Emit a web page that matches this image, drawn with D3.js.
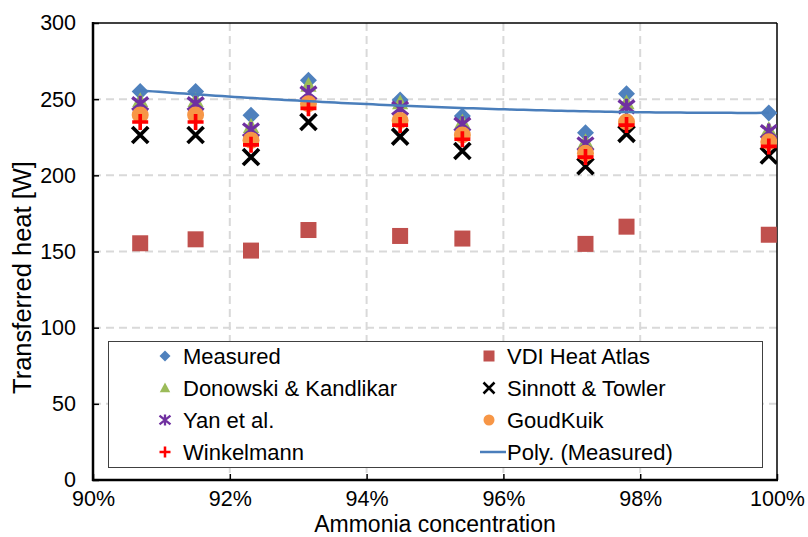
<!DOCTYPE html>
<html>
<head>
<meta charset="utf-8">
<script src="https://cdn.jsdelivr.net/npm/d3@7/dist/d3.min.js"></script>
<style>
  html, body { margin: 0; padding: 0; background: #fff; }
  svg { display: block; font-family: "Liberation Sans", Arial, sans-serif; }
</style>
</head>
<body>
<svg id="chart" width="808" height="537"></svg>
<script>
// Ammonia concentration of each test run [%]
const concentration = [90.69, 91.50, 92.31, 93.15, 94.49, 95.40, 97.20, 97.80, 99.88];

// Transferred heat per run [W]
const measured   = [255, 255, 239.5, 262.5, 249.5, 239, 228, 253.5, 241];
const vdiAtlas   = [155.4, 158, 150.6, 164.1, 160.2, 158.5, 155, 166.3, 161];
const donowski   = [249, 249, 232, 259, 247.5, 235, 222, 247.5, 230];
const sinnott    = [226.5, 226.5, 212, 235, 225.4, 216, 206, 227.2, 213];
const yan        = [247, 247, 229.8, 254, 244, 233.5, 220.6, 245, 228.7];
const goudKuik   = [239.6, 239.6, 223, 247, 236, 226.5, 214.5, 235, 222];
const winkelmann = [235, 235, 220, 244, 233, 223.7, 212, 233, 219];

const xTicks = [90, 92, 94, 96, 98, 100];
const yTicks = [0, 50, 100, 150, 200, 250, 300];

const svg = d3.select("#chart");
const plot = { left: 93, right: 777, top: 23, bottom: 480 };

const x = d3.scaleLinear().domain([90, 100]).range([plot.left, plot.right]);
const y = d3.scaleLinear().domain([0, 300]).range([plot.bottom, plot.top]);

// Marker shapes
const shapes = {
  diamond: (g, s, c) => g.append("path")
    .attr("d", `M0,${-s}L${s},0L0,${s}L${-s},0Z`).attr("fill", c),
  square: (g, s, c) => g.append("rect")
    .attr("x", -s).attr("y", -s).attr("width", 2 * s).attr("height", 2 * s).attr("fill", c),
  triangle: (g, s, c) => g.append("path")
    .attr("d", `M0,${-s}L${s * 0.95},${s * 0.75}L${-s * 0.95},${s * 0.75}Z`).attr("fill", c),
  cross: (g, s, c) => g.append("path")
    .attr("d", `M${-s},${-s}L${s},${s}M${s},${-s}L${-s},${s}`)
    .attr("stroke", c).attr("stroke-width", s * 0.46).attr("fill", "none"),
  star: (g, s, c) => g.append("path")
    .attr("d", `M${-s},${-s * 0.8}L${s},${s * 0.8}M${s},${-s * 0.8}L${-s},${s * 0.8}M0,${-s}L0,${s}`)
    .attr("stroke", c).attr("stroke-width", s * 0.42).attr("fill", "none"),
  circle: (g, s, c) => g.append("circle").attr("r", s).attr("fill", c),
  plus: (g, s, c) => g.append("path")
    .attr("d", `M${-s},0L${s},0M0,${-s}L0,${s}`)
    .attr("stroke", c).attr("stroke-width", s * 0.46).attr("fill", "none")
};

const series = [
  { name: "Measured",              values: measured,   shape: "diamond",  color: "#4f81bd", size: 8.5 },
  { name: "VDI Heat Atlas",        values: vdiAtlas,   shape: "square",   color: "#c0504d", size: 8 },
  { name: "Donowski & Kandlikar",  values: donowski,   shape: "triangle", color: "#9bbb59", size: 8.5 },
  { name: "Sinnott & Towler",      values: sinnott,    shape: "cross",    color: "#000000", size: 8 },
  { name: "Yan et al.",            values: yan,        shape: "star",     color: "#7030a0", size: 8 },
  { name: "GoudKuik",              values: goudKuik,   shape: "circle",   color: "#f79646", size: 8.5 },
  { name: "Winkelmann",            values: winkelmann, shape: "plus",     color: "#ff0000", size: 8 }
];

// Gridlines
const grid = svg.append("g").attr("stroke", "#d9d9d9").attr("stroke-width", 2)
  .attr("stroke-dasharray", "8,5");
grid.selectAll(".gy").data(yTicks.filter(t => t > 0 && t < 300)).join("line")
  .attr("x1", plot.left).attr("x2", plot.right)
  .attr("y1", d => y(d)).attr("y2", d => y(d));
grid.selectAll(".gx").data(xTicks.filter(t => t > 90 && t < 100)).join("line")
  .attr("y1", plot.top).attr("y2", plot.bottom)
  .attr("x1", d => x(d)).attr("x2", d => x(d));

// Axes with inward ticks
const xAxis = svg.append("g").attr("transform", `translate(0,${plot.bottom})`)
  .call(d3.axisBottom(x).tickValues(xTicks).tickSize(-6).tickPadding(11).tickFormat(d => d + "%"));
const yAxis = svg.append("g").attr("transform", `translate(${plot.left},0)`)
  .call(d3.axisLeft(y).tickValues(yTicks).tickSize(-6).tickPadding(17));
[xAxis, yAxis].forEach(a => {
  a.select(".domain").remove();
  a.selectAll(".tick line").attr("stroke", "#000").attr("stroke-width", 1.5);
  a.selectAll("text").attr("font-size", 21.5).attr("fill", "#000")
    .attr("font-family", "Liberation Sans, Arial, sans-serif");
});
xAxis.selectAll("text").attr("dy", "0.71em");

// Frame
svg.append("line").attr("x1", plot.left).attr("x2", plot.right).attr("y1", plot.top).attr("y2", plot.top)
  .attr("stroke", "#000").attr("stroke-width", 1.5);
svg.append("line").attr("x1", plot.right).attr("x2", plot.right).attr("y1", plot.top).attr("y2", plot.bottom)
  .attr("stroke", "#000").attr("stroke-width", 1.5);
svg.append("line").attr("x1", plot.left).attr("x2", plot.left).attr("y1", plot.top - 1).attr("y2", plot.bottom + 1)
  .attr("stroke", "#000").attr("stroke-width", 2.5);
svg.append("line").attr("x1", plot.left - 1).attr("x2", plot.right + 1).attr("y1", plot.bottom).attr("y2", plot.bottom)
  .attr("stroke", "#000").attr("stroke-width", 2.5);

// Markers, series in plotting order
svg.append("clipPath").attr("id", "plotClip").append("rect")
  .attr("x", plot.left).attr("y", plot.top)
  .attr("width", plot.right - plot.left).attr("height", plot.bottom - plot.top);
const marks = svg.append("g").attr("clip-path", "url(#plotClip)");
series.forEach(s => {
  s.values.forEach((v, i) => {
    const g = marks.append("g").attr("transform", `translate(${x(concentration[i])},${y(v)})`);
    shapes[s.shape](g, s.size, s.color);
  });
});

// Second-order polynomial trendline of the measured values (least squares)
function polyFit2(xs, ys) {
  const S = [0, 0, 0, 0, 0], T = [0, 0, 0];
  const xm = d3.mean(xs);
  xs.forEach((xv, i) => {
    const u = xv - xm;
    for (let k = 0; k < 5; k++) S[k] += Math.pow(u, k);
    for (let k = 0; k < 3; k++) T[k] += ys[i] * Math.pow(u, k);
  });
  const A = [[S[0], S[1], S[2], T[0]], [S[1], S[2], S[3], T[1]], [S[2], S[3], S[4], T[2]]];
  for (let c = 0; c < 3; c++) {
    for (let r = c + 1; r < 3; r++) {
      const f = A[r][c] / A[c][c];
      for (let k = c; k < 4; k++) A[r][k] -= f * A[c][k];
    }
  }
  const coef = [0, 0, 0];
  for (let r = 2; r >= 0; r--) {
    let s = A[r][3];
    for (let k = r + 1; k < 3; k++) s -= A[r][k] * coef[k];
    coef[r] = s / A[r][r];
  }
  return xv => { const u = xv - xm; return coef[0] + coef[1] * u + coef[2] * u * u; };
}
const trend = polyFit2(concentration, measured);
const xMin = d3.min(concentration), xMax = d3.max(concentration);
const trendX = d3.range(0, 101).map(i => xMin + i * (xMax - xMin) / 100);
svg.append("path")
  .attr("d", d3.line().x(d => x(d)).y(d => y(trend(d)))(trendX))
  .attr("fill", "none").attr("stroke", "#4a7ebb").attr("stroke-width", 2.5);

// Axis titles
svg.append("text").attr("x", (plot.left + plot.right) / 2).attr("y", 532)
  .attr("text-anchor", "middle").attr("font-size", 23).text("Ammonia concentration");
svg.append("text").attr("transform", `translate(31,${(plot.top + plot.bottom) / 2 + 26}) rotate(-90)`)
  .attr("text-anchor", "middle").attr("font-size", 25.5).text("Transferred heat [W]");

// Legend
const legend = svg.append("g");
legend.append("rect").attr("x", 108.5).attr("y", 341.5).attr("width", 654).attr("height", 126)
  .attr("fill", "#fff").attr("stroke", "#404040").attr("stroke-width", 1);
const legendItems = [
  { s: series[0], col: 0, row: 0 }, { s: series[1], col: 1, row: 0 },
  { s: series[2], col: 0, row: 1 }, { s: series[3], col: 1, row: 1 },
  { s: series[4], col: 0, row: 2 }, { s: series[5], col: 1, row: 2 },
  { s: series[6], col: 0, row: 3 }, { s: { name: "Poly. (Measured)", shape: "line", color: "#4a7ebb" }, col: 1, row: 3 }
];
const colX = [165, 489];
legendItems.forEach(it => {
  const cx = colX[it.col], cy = 356 + it.row * 32;
  const g = legend.append("g").attr("transform", `translate(${cx},${cy})`);
  if (it.s.shape === "line") {
    g.append("line").attr("x1", -9).attr("x2", 17).attr("stroke", it.s.color).attr("stroke-width", 2.5);
  } else {
    shapes[it.s.shape](g, 5.5, it.s.color);
  }
  legend.append("text").attr("x", cx + 18).attr("y", cy).attr("dy", "0.35em")
    .attr("font-size", 22).text(it.s.name);
});
</script>
</body>
</html>
